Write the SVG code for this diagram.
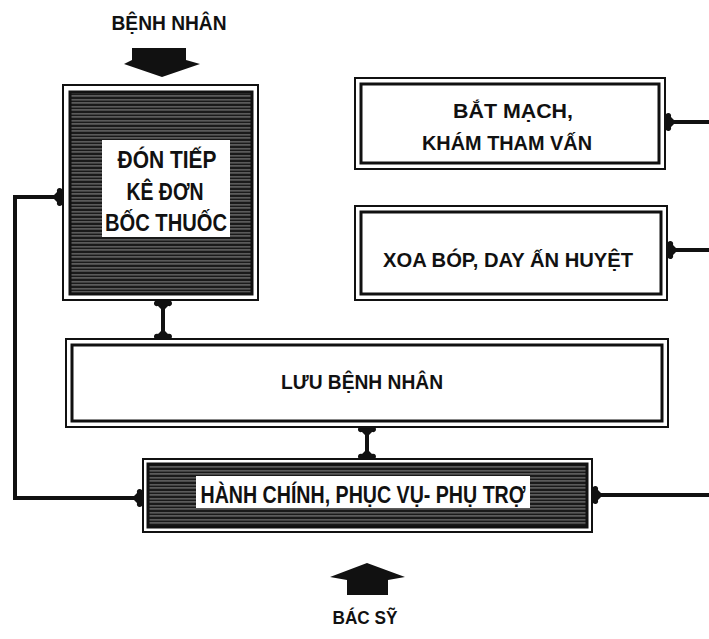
<svg xmlns="http://www.w3.org/2000/svg" width="709" height="639" viewBox="0 0 709 639">
<style>
.t{font-family:"Liberation Sans",Arial,sans-serif;font-weight:bold;fill:#111;text-anchor:middle}
.o{fill:none;stroke:#111;stroke-width:2}
.i{fill:none;stroke:#111;stroke-width:3}
.c{fill:none;stroke:#111;stroke-width:4}
.w{fill:#fff}
</style>
<defs>
<pattern id="hatch" width="4" height="7" patternUnits="userSpaceOnUse">
<rect width="4" height="7" fill="#1a1a1a"/>
<rect y="1.5" width="4" height="0.8" fill="#9a9a9a"/>
<rect y="4.6" width="4" height="0.7" fill="#bdbdbd"/>
</pattern>
<marker id="bone" viewBox="-9 -10 10 20" refX="0" refY="0" markerWidth="10" markerHeight="20" markerUnits="userSpaceOnUse" orient="auto-start-reverse">
<path d="M0,-8 C-2,-10 -6,-9 -5,-5 L-8,-2 L-8,2 L-5,5 C-6,9 -2,10 0,8 C1,3 1,-3 0,-8 Z" fill="#111"/>
</marker>
</defs>
<rect width="709" height="639" fill="#fff"/>

<g id="benh-nhan">
<text class="t" x="169" y="30" font-size="21" textLength="115" lengthAdjust="spacingAndGlyphs">BỆNH NHÂN</text>
<polygon points="132,48 186,48 186,60 200,64 162,77 124,64 132,60" fill="#111"/>
</g>

<g id="don-tiep">
<rect class="o" x="63" y="85" width="195" height="215"/>
<rect x="70" y="92" width="182" height="202" fill="url(#hatch)" stroke="#111" stroke-width="3"/>
<rect class="w" x="102" y="140" width="128" height="97"/>
<text class="t" x="167" y="168" font-size="24" textLength="99" lengthAdjust="spacingAndGlyphs">ĐÓN TIẾP</text>
<text class="t" x="165" y="200" font-size="24" textLength="77" lengthAdjust="spacingAndGlyphs">KÊ ĐƠN</text>
<text class="t" x="166" y="231" font-size="24" textLength="122" lengthAdjust="spacingAndGlyphs">BỐC THUỐC</text>
</g>

<g id="bat-mach">
<rect class="o" x="355" y="78" width="310" height="91"/>
<rect class="i" x="361" y="84" width="298" height="79"/>
<text class="t" x="513" y="118" font-size="20" textLength="120" lengthAdjust="spacingAndGlyphs">BẮT MẠCH,</text>
<text class="t" x="507" y="150" font-size="20" textLength="170" lengthAdjust="spacingAndGlyphs">KHÁM THAM VẤN</text>
</g>

<g id="xoa-bop">
<rect class="o" x="355" y="206" width="312" height="94"/>
<rect class="i" x="361" y="212" width="300" height="82"/>
<text class="t" x="508" y="267" font-size="20" textLength="250" lengthAdjust="spacingAndGlyphs">XOA BÓP, DAY ẤN HUYỆT</text>
</g>

<g id="luu-benh-nhan">
<rect class="o" x="66" y="339" width="602" height="88"/>
<rect class="i" x="72" y="345" width="590" height="76"/>
<text class="t" x="362" y="389" font-size="20" textLength="162" lengthAdjust="spacingAndGlyphs">LƯU BỆNH NHÂN</text>
</g>

<g id="hanh-chinh">
<rect class="o" x="143" y="459" width="449" height="73"/>
<rect x="148" y="464" width="439" height="63" fill="url(#hatch)" stroke="#111" stroke-width="3"/>
<rect class="w" x="196" y="476" width="334" height="32"/>
<text class="t" x="363" y="503" font-size="23" textLength="325" lengthAdjust="spacingAndGlyphs">HÀNH CHÍNH, PHỤC VỤ- PHỤ TRỢ</text>
</g>

<g id="bac-sy">
<polygon points="367,563 405,577 388,580 388,595 347,595 347,580 330,577" fill="#111"/>
<text class="t" x="365" y="624" font-size="18" textLength="65" lengthAdjust="spacingAndGlyphs">BÁC SỸ</text>
</g>

<g id="connectors">
<path class="c" d="M163,301 L163,339" marker-start="url(#bone)" marker-end="url(#bone)"/>
<path class="c" d="M367,427 L367,459" marker-start="url(#bone)" marker-end="url(#bone)"/>
<path class="c" d="M62,197 L15,197 L15,498 L142,498" marker-start="url(#bone)" marker-end="url(#bone)"/>
<path class="c" d="M709,122 L666,122" marker-end="url(#bone)"/>
<path class="c" d="M709,250 L668,250" marker-end="url(#bone)"/>
<path class="c" d="M709,495 L593,495" marker-end="url(#bone)"/>
</g>
</svg>
